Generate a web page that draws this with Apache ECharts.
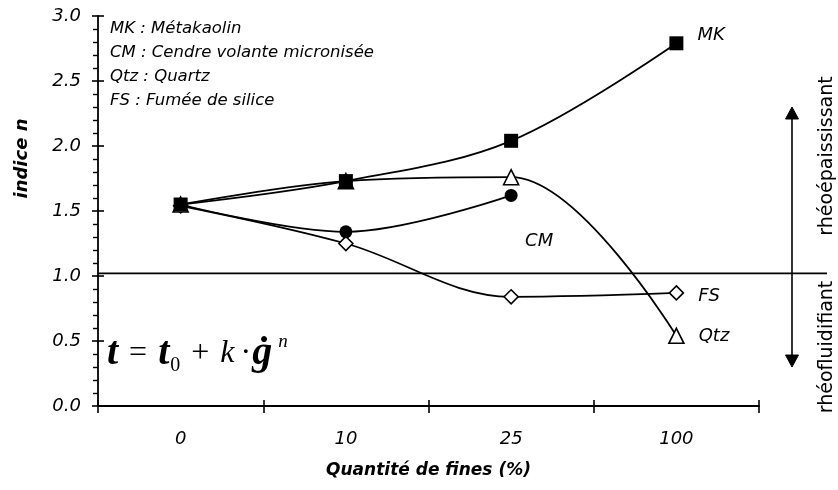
<!DOCTYPE html>
<html>
<head>
<meta charset="utf-8">
<script src="https://cdn.jsdelivr.net/npm/echarts@6/dist/echarts.min.js"></script>
<style>
html, body { margin: 0; padding: 0; background: #fff; }
#chart { width: 838px; height: 490px; }
</style>
</head>
<body>
<div id="chart"></div>
<script>
// données
const categories = ['0', '10', '25', '100'];
const mkValues = [1.55, 1.73, 2.04, 2.79];
const cmValues = [1.55, 1.34, 1.62, null];
const qtzValues = [1.55, 1.73, 1.76, 0.54];
const fsValues = [1.54, 1.25, 0.84, 0.87];
const legendLines = ['MK : Métakaolin', 'CM : Cendre volante micronisée', 'Qtz : Quartz', 'FS : Fumée de silice'];
const limitValue = 1.02;

const FONT = 'DejaVu Sans';
const SERIF = 'Liberation Serif';
const chart = echarts.init(document.getElementById('chart'));

function makeSeries(name, values, symbol, size, filled, labelIdx, label) {
	return {
		name: name,
		type: 'line',
		smooth: 0.35,
		symbol: symbol,
		symbolSize: size,
		showAllSymbol: true,
		connectNulls: false,
		lineStyle: { color: '#000', width: 1.8 },
		itemStyle: {
			color: filled ? '#000' : '#fff',
			borderColor: '#000',
			borderWidth: filled ? 0 : 1.6
		},
		emphasis: { disabled: true },
		data: values.map((v, i) => i === labelIdx ? { value: v, label: label } : v)
	};
}

function tag(text, extra) {
	return Object.assign({
		show: true,
		formatter: text,
		color: '#000',
		fontFamily: FONT,
		fontStyle: 'italic',
		fontSize: 18
	}, extra);
}

const xTickOut = { show: true, inside: false, length: 7, lineStyle: { color: '#000', width: 1.6 } };
const xTickIn = { show: true, inside: true, length: 6, lineStyle: { color: '#000', width: 1.6 } };

chart.setOption({
	animation: false,
	grid: { left: 98, right: 79, top: 16, bottom: 84, containLabel: false, outerBoundsMode: 'none' },
	xAxis: [{
		type: 'category',
		data: categories,
		boundaryGap: true,
		name: 'Quantité de fines (%)',
		nameLocation: 'middle',
		nameGap: 56,
		nameTextStyle: { fontFamily: FONT, fontStyle: 'italic', fontWeight: 'bold', fontSize: 17, color: '#000' },
		axisLine: { lineStyle: { color: '#000', width: 1.8 } },
		axisTick: xTickOut,
		axisLabel: { margin: 24, color: '#000', fontFamily: FONT, fontStyle: 'italic', fontSize: 18 },
		splitLine: { show: false }
	}, {
		type: 'category',
		data: categories,
		position: 'bottom',
		boundaryGap: true,
		axisLine: { show: false },
		axisTick: xTickIn,
		axisLabel: { show: false },
		splitLine: { show: false }
	}],
	yAxis: [{
		type: 'value',
		min: 0,
		max: 3,
		interval: 0.5,
		name: 'indice n',
		nameLocation: 'middle',
		nameRotate: 90,
		nameGap: 67,
		nameTextStyle: { fontFamily: FONT, fontStyle: 'italic', fontWeight: 'bold', fontSize: 18, color: '#000', padding: [0, 0, 0, 105] },
		axisLine: { show: true, lineStyle: { color: '#000', width: 1.8 } },
		axisTick: { show: true, inside: false, length: 6, lineStyle: { color: '#000', width: 1.6 } },
		minorTick: { show: true, splitNumber: 5, length: 5, lineStyle: { color: '#000', width: 1.4 } },
		axisLabel: { margin: 17, color: '#000', fontFamily: FONT, fontStyle: 'italic', fontSize: 18, formatter: v => v.toFixed(1) },
		splitLine: { show: false },
		minorSplitLine: { show: false }
	}, {
		type: 'value',
		min: 0,
		max: 3,
		interval: 0.5,
		position: 'left',
		axisLine: { show: false },
		axisTick: { show: true, inside: true, length: 6, lineStyle: { color: '#000', width: 1.6 } },
		axisLabel: { show: false },
		splitLine: { show: false }
	}],
	series: [
		makeSeries('FS', fsValues, 'diamond', 14, false, 3, tag('FS', { position: 'right', distance: 14, offset: [0, 3] })),
		makeSeries('Qtz', qtzValues, 'triangle', 15, false, 3, tag('Qtz', { position: 'right', distance: 14, offset: [0, 1] })),
		makeSeries('CM', cmValues, 'circle', 13, true, 2, tag('CM', { position: 'bottom', distance: 30, offset: [28, 0] })),
		makeSeries('MK', mkValues, 'rect', 14, true, 3, tag('MK', { position: 'right', distance: 14, offset: [0, -8] }))
	]
});

// annotations : ligne n = 1, flèches, textes
const yLimit = chart.convertToPixel({ yAxisIndex: 0 }, limitValue);
const yUp = chart.convertToPixel({ yAxisIndex: 0 }, 2.3);
const yDown = chart.convertToPixel({ yAxisIndex: 0 }, 0.3);
const xLeft = chart.convertToPixel({ xAxisIndex: 0 }, categories[0]) - 82;
const arrowX = 792;
const black = { fill: '#000', stroke: '#000' };
const op = { fontFamily: SERIF, fontSize: 32, lineHeight: 44, verticalAlign: 'middle', fill: '#000' };

chart.setOption({
	graphic: [
		{ type: 'line', shape: { x1: xLeft, y1: yLimit, x2: 827, y2: yLimit }, style: { stroke: '#000', lineWidth: 1.6 }, silent: true },
		{ type: 'line', shape: { x1: arrowX, y1: yUp + 8, x2: arrowX, y2: yDown - 8 }, style: { stroke: '#000', lineWidth: 1.6 }, silent: true },
		{ type: 'polygon', shape: { points: [[arrowX, yUp], [arrowX - 6.5, yUp + 12], [arrowX + 6.5, yUp + 12]] }, style: black, silent: true },
		{ type: 'polygon', shape: { points: [[arrowX, yDown], [arrowX - 6.5, yDown - 12], [arrowX + 6.5, yDown - 12]] }, style: black, silent: true },
		{
			type: 'text', x: 827, y: 156, rotation: Math.PI / 2, silent: true,
			style: { text: 'rhéoépaississant', fill: '#000', font: '19px "' + FONT + '"', align: 'center', verticalAlign: 'middle' }
		},
		{
			type: 'text', x: 827, y: 347, rotation: Math.PI / 2, silent: true,
			style: { text: 'rhéofluidifiant', fill: '#000', font: '19px "' + FONT + '"', align: 'center', verticalAlign: 'middle' }
		},
		{
			type: 'text', x: 110, y: 17, silent: true,
			style: {
				text: legendLines.join('\n'), fill: '#000', fontFamily: FONT, fontStyle: 'italic', fontSize: 16.5,
				lineHeight: 24, align: 'left', verticalAlign: 'top'
			}
		},
		{
			type: 'text', x: 107, y: 354, silent: true,
			style: {
				text: '{a|t}{b|=}{a|t}{sub|0}{b|+}{k|k}{b2|·}{a|ġ}{sup|n}',
				align: 'left', verticalAlign: 'middle',
				rich: {
					a: { fontFamily: SERIF, fontWeight: 'bold', fontStyle: 'italic', fontSize: 40, lineHeight: 44, verticalAlign: 'middle', fill: '#000' },
					b: Object.assign({ padding: [0, 11, 0, 11] }, op),
					b2: Object.assign({ padding: [0, 1, 0, 6] }, op),
					k: { fontFamily: SERIF, fontStyle: 'italic', fontSize: 32, lineHeight: 44, verticalAlign: 'middle', fill: '#000' },
					sub: { fontFamily: SERIF, fontSize: 20, lineHeight: 20, padding: [24, 0, 0, 1], verticalAlign: 'top', fill: '#000' },
					sup: { fontFamily: SERIF, fontStyle: 'italic', fontSize: 19, lineHeight: 19, padding: [0, 0, 25, 6], verticalAlign: 'top', fill: '#000' }
				}
			}
		}
	]
});
</script>
</body>
</html>
